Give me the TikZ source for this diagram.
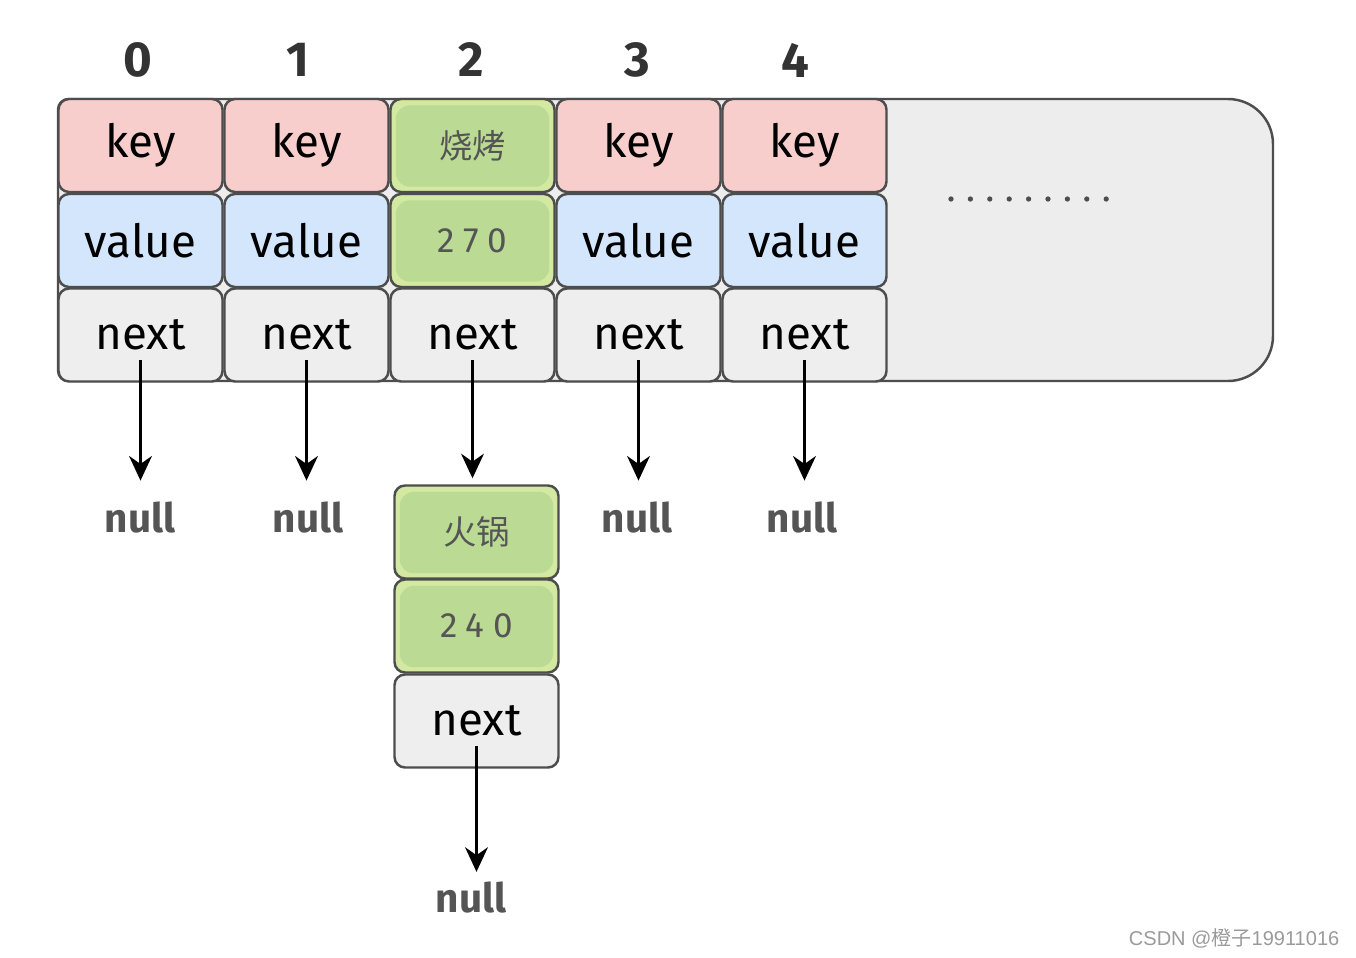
\documentclass[tikz,border=0pt]{standalone}
\usepackage{fontspec}
\usepackage{tikz}
\usetikzlibrary{arrows.meta}
\setmainfont{Fira Sans}
\newfontfamily\cjk{Noto Sans CJK SC}
\newfontfamily\numfont[LetterSpace=25]{Fira Sans}
\newfontfamily\wmfont{Liberation Sans}
\definecolor{linegray}{HTML}{4D4D4D}
\definecolor{boxgray}{HTML}{EDEDED}
\definecolor{keypink}{HTML}{F8CECC}
\definecolor{valblue}{HTML}{D4E6FC}
\definecolor{nextgray}{HTML}{EEEEEE}
\definecolor{greenrim}{HTML}{D3E8A0}
\definecolor{greenin}{HTML}{BBDA94}
\definecolor{textgray}{HTML}{555555}
\definecolor{wmgray}{HTML}{9A9A9A}

\begin{document}
\begin{tikzpicture}[>={Stealth[length=7pt,width=6.5pt]},
    cell/.style={draw=linegray, line width=0.7pt, rounded corners=3pt, minimum width=1.64cm, minimum height=0.93cm, inner sep=0pt, font=\fontsize{13}{15}\selectfont},
    keycell/.style={cell, fill=keypink},
    valcell/.style={cell, fill=valblue},
    nextcell/.style={cell, fill=nextgray},
    hitcell/.style={cell, fill=greenrim, text=textgray, path picture={\fill[greenin, rounded corners=4pt] ([shift={(1.5pt,-1.8pt)}]path picture bounding box.north west) rectangle ([shift={(-1.5pt,1.5pt)}]path picture bounding box.south east);}},
    nulltxt/.style={text=textgray, font=\bfseries\fontsize{11.5}{14}\selectfont, inner xsep=1pt, inner ysep=5.7pt, anchor=base},
    idx/.style={text=black!80, font=\bfseries\fontsize{14}{16}\selectfont}]
        \useasboundingbox (0,0) rectangle (13.56,9.57);
        % table background
        \draw[draw=linegray, fill=boxgray, line width=0.7pt, rounded corners=3pt] (8,8.58) -- (0.58,8.58) -- (0.58,5.76) -- (8,5.76) [rounded corners=0.45cm] -- (12.73,5.76) -- (12.73,8.58) -- cycle;
        \draw[linegray, line width=1.5pt, line cap=round, dash pattern=on 0pt off 0.194cm] (9.51,7.58) -- (11.07,7.58);
        % indices
        \node[idx] (i0) at (1.38,8.97) {0};
        \node[idx] (i1) at (2.98,8.97) {1};
        \node[idx] (i2) at (4.71,8.97) {2};
        \node[idx] (i3) at (6.37,8.97) {3};
        \node[idx] (i4) at (7.95,8.97) {4};
        % buckets
        \node[keycell] (k0) at (1.405,8.115) {key};
        \node[valcell] (v0) at (1.405,7.165) {value};
        \node[nextcell] (n0) at (1.405,6.22) {next};
        \node[keycell] (k1) at (3.065,8.115) {key};
        \node[valcell] (v1) at (3.065,7.165) {value};
        \node[nextcell] (n1) at (3.065,6.22) {next};
        \node[hitcell] (k2) at (4.725,8.115) {\cjk\fontsize{9.5}{12}\selectfont 烧烤};
        \node[hitcell] (v2) at (4.725,7.165) {\numfont\fontsize{10}{12}\selectfont 270};
        \node[nextcell] (n2) at (4.725,6.22) {next};
        \node[keycell] (k3) at (6.385,8.115) {key};
        \node[valcell] (v3) at (6.385,7.165) {value};
        \node[nextcell] (n3) at (6.385,6.22) {next};
        \node[keycell] (k4) at (8.045,8.115) {key};
        \node[valcell] (v4) at (8.045,7.165) {value};
        \node[nextcell] (n4) at (8.045,6.22) {next};
        % chained entry
        \node[hitcell] (hk) at (4.765,4.25) {\cjk\fontsize{9.5}{12}\selectfont 火锅};
        \node[hitcell] (hv) at (4.765,3.31) {\numfont\fontsize{10}{12}\selectfont 240};
        \node[nextcell] (hn) at (4.765,2.36) {next};
        % nulls
        \node[nulltxt] (z0) at (1.40,4.25) {null};
        \node[nulltxt] (z1) at (3.08,4.25) {null};
        \node[nulltxt] (z3) at (6.37,4.25) {null};
        \node[nulltxt] (z4) at (8.02,4.25) {null};
        \node[nulltxt, inner ysep=2.5pt] (z5) at (4.71,0.45) {null};
        \draw[->, line width=0.7pt] ([yshift=-0.25cm]n0.center) -- (n0.center |- z0.north);
        \draw[->, line width=0.7pt] ([yshift=-0.25cm]n1.center) -- (n1.center |- z1.north);
        \draw[->, line width=0.7pt] ([yshift=-0.25cm]n2.center) -- ([yshift=0.06cm]n2.center |- hk.north);
        \draw[->, line width=0.7pt] ([yshift=-0.25cm]n3.center) -- (n3.center |- z3.north);
        \draw[->, line width=0.7pt] ([yshift=-0.25cm]n4.center) -- (n4.center |- z4.north);
        \draw[->, line width=0.7pt] ([yshift=-0.25cm]hn.center) -- (hn.center |- z5.north);
        % watermark
        \node[anchor=east, inner sep=0pt, text=wmgray, font=\wmfont\fontsize{5.7}{7}\selectfont] (wm) at (13.40,0.19) {CSDN @{\cjk 橙子}19911016};
    \end{tikzpicture}
\end{document}
